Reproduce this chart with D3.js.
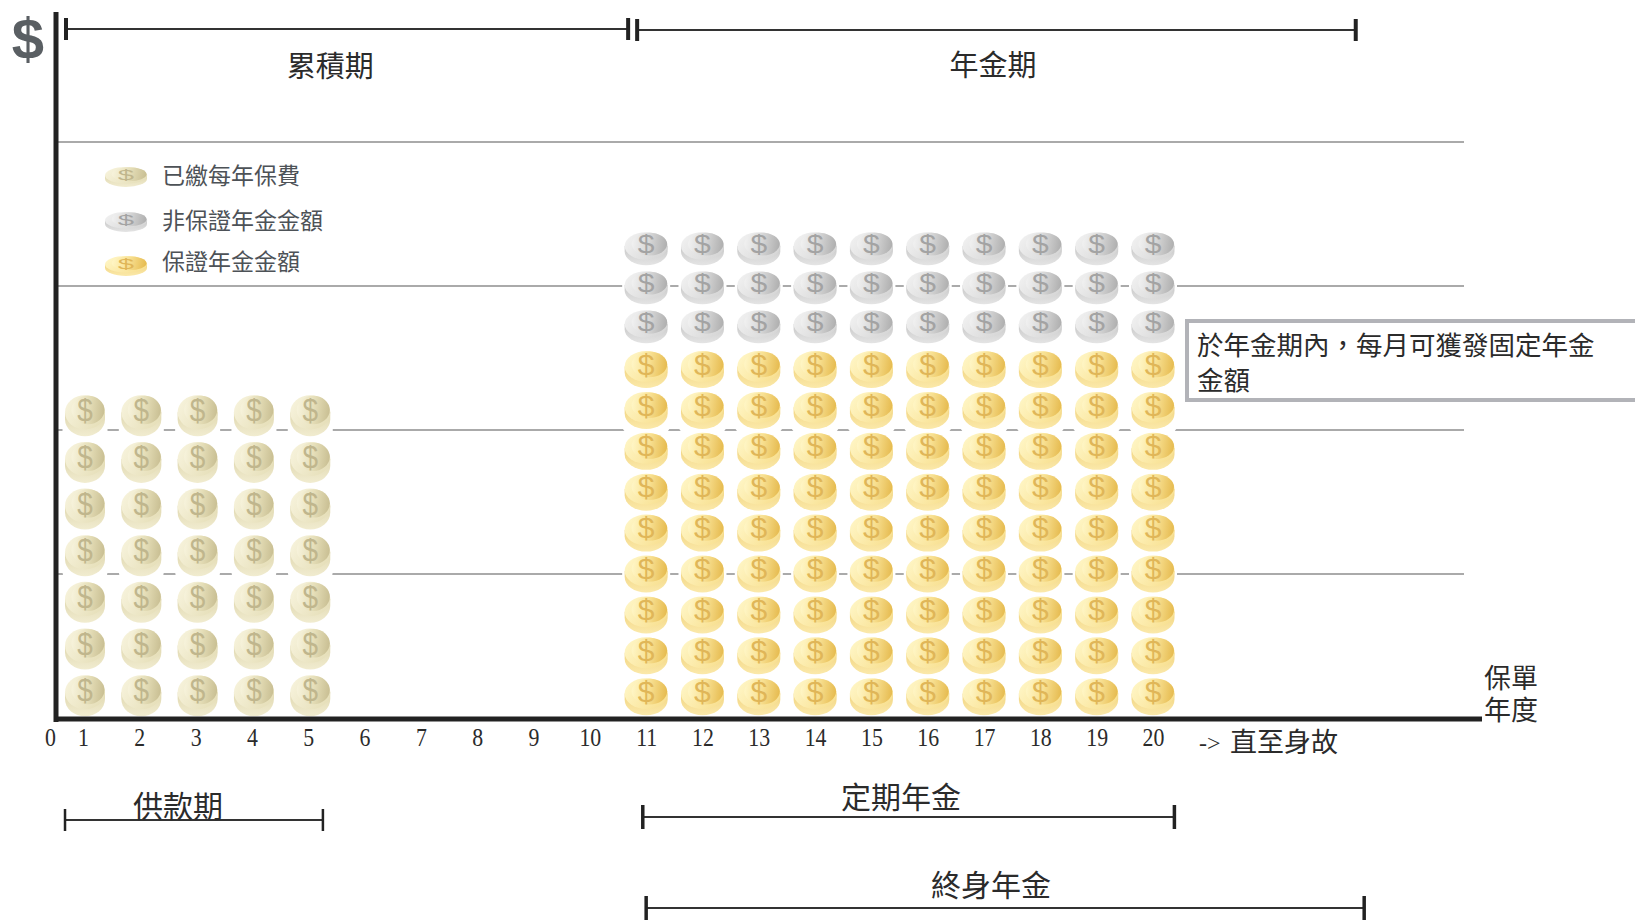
<!DOCTYPE html>
<html>
<head>
<meta charset="utf-8">
<title>累積期與年金期</title>
<script src="https://cdn.jsdelivr.net/npm/d3@7/dist/d3.min.js"></script>
<style>
html,body{margin:0;padding:0;background:#fff;overflow:hidden}
svg{display:block}
text{font-family:"Noto Sans CJK TC","Noto Sans CJK SC",sans-serif;fill:#2b2b2b}
</style>
</head>
<body>
<svg id="chart" width="1635" height="921"></svg>
<script>
// Policy years and coin counts per year
const tickYears = [0,1,2,3,4,5,6,7,8,9,10,11,12,13,14,15,16,17,18,19,20];
const premiumYears = [1,2,3,4,5];
const premiumCoins = [7,7,7,7,7];
const annuityYears = [11,12,13,14,15,16,17,18,19,20];
const guaranteedCoins = [9,9,9,9,9,9,9,9,9,9];
const nonGuaranteedCoins = [3,3,3,3,3,3,3,3,3,3];
const gridLevels = [1,2,3,4];

// Period spans, in policy years
const topSpans = [["累積期",0.485,10.68,5.39],["年金期",10.84,23.6,17.16]];
const bottomSpans = [["供款期",0.455,5.26],["定期年金",10.94,20.38],["終身年金",11.0,23.75]];
const legendItems = ["已繳每年保費","非保證年金金額","保證年金金額"];
const noteLines = ["於年金期內，每月可獲發固定年金","金額"];
const axisTitleLines = ["保單","年度"];

const svg = d3.select("#chart");
const x = d3.scaleLinear().domain([0,1,20]).range([50,83,1153]);
const y = d3.scaleLinear().domain([0,4]).range([718,142]);

// Coin palettes
const palettes = {
  premium:{light:"#f7f3dc",mid:"#e6dfb9",dark:"#c9bf93",edge:"#e0d8b0",edgeLow:"#f1ecd0",sign:"#c0b68d"},
  non:{light:"#f1f1f1",mid:"#d6d6d6",dark:"#afafaf",edge:"#c8c8c8",edgeLow:"#e4e4e4",sign:"#a3a3a3"},
  guaranteed:{light:"#fff6c6",mid:"#f8e091",dark:"#e6bb50",edge:"#f2d582",edgeLow:"#fbe9aa",sign:"#e0b658"}
};

const defs = svg.append("defs");
Object.entries(palettes).forEach(([key,p])=>{
  const face = defs.append("linearGradient").attr("id","face-"+key)
    .attr("x1",0).attr("y1",0.2).attr("x2",1).attr("y2",0.7);
  face.append("stop").attr("offset","0").attr("stop-color",p.light);
  face.append("stop").attr("offset","1").attr("stop-color",p.mid);
  const inner = defs.append("linearGradient").attr("id","inner-"+key)
    .attr("x1",0).attr("y1",0.4).attr("x2",1).attr("y2",0.5);
  inner.append("stop").attr("offset","0").attr("stop-color",p.light);
  inner.append("stop").attr("offset","0.5").attr("stop-color",p.mid);
  inner.append("stop").attr("offset","1").attr("stop-color",p.dark);
  const side = defs.append("linearGradient").attr("id","side-"+key)
    .attr("x1",0).attr("y1",0).attr("x2",0).attr("y2",1);
  side.append("stop").attr("offset","0").attr("stop-color",p.edge);
  side.append("stop").attr("offset","1").attr("stop-color",p.edgeLow);
});

// One coin on a 40-unit-wide, 36-unit-tall base shape, stretched to w by h
function drawCoin(parent, key, cx, cy, w, h){
  const g = parent.append("g")
    .attr("transform",`translate(${cx},${cy}) scale(${w/40},${h/36})`);
  g.append("path")
    .attr("d","M-20,-3 V3 A20,15 0 0 0 20,3 V-3 Z")
    .attr("fill",`url(#side-${key})`);
  g.append("ellipse").attr("cy",-3).attr("rx",20).attr("ry",15)
    .attr("fill",`url(#face-${key})`);
  g.append("ellipse").attr("cx",3).attr("cy",-5).attr("rx",16.5).attr("ry",12.5)
    .attr("fill",`url(#inner-${key})`);
  g.append("text").text("$")
    .attr("y",5).attr("text-anchor","middle")
    .style("font-family","'Liberation Sans',sans-serif")
    .style("font-size","28px")
    .style("fill",palettes[key].sign);
}

// Horizontal guide lines
svg.append("g").selectAll("line").data(gridLevels).join("line")
  .attr("x1",56).attr("x2",1464)
  .attr("y1",d=>y(d)).attr("y2",d=>y(d))
  .attr("stroke","#8e8e8e").attr("stroke-width",1.4);

// Coin stacks: base height and per-coin step are in guide-line units
const stacks = [
  {key:"premium",years:premiumYears,counts:premiumCoins,base:0.155,step:0.324,w:40,h:41,dx:2},
  {key:"guaranteed",years:annuityYears,counts:guaranteedCoins,base:0.148,step:0.284,w:43,h:37,dx:0},
  {key:"non",years:annuityYears,counts:nonGuaranteedCoins,base:2.717,step:0.271,w:43,h:33,dx:0}
];
const coins = stacks.flatMap(s=>s.years.flatMap((yr,i)=>
  d3.range(s.counts[i]).map(n=>({s,cx:x(yr)+s.dx,cy:y(s.base+n*s.step)}))));

// White backing that breaks the guide lines around every coin
const coinLayer = svg.append("g");
coinLayer.selectAll("rect.halo").data(coins).join("rect")
  .attr("class","halo")
  .attr("x",d=>d.cx-d.s.w/2-2.5).attr("y",d=>d.cy-d.s.h/2-2)
  .attr("width",d=>d.s.w+5).attr("height",d=>d.s.h+8)
  .attr("rx",10)
  .attr("fill","#fff");
coins.forEach(d=>drawCoin(coinLayer,d.s.key,d.cx,d.cy,d.s.w,d.s.h));

// Axes
svg.append("line").attr("x1",56).attr("x2",56).attr("y1",12).attr("y2",722)
  .attr("stroke","#222").attr("stroke-width",5);
svg.append("line").attr("x1",54).attr("x2",1482).attr("y1",719).attr("y2",719)
  .attr("stroke","#222").attr("stroke-width",5);

const xAxis = svg.append("g").attr("transform","translate(0,725)")
  .call(d3.axisBottom(x).tickValues(tickYears).tickFormat(d3.format("d")).tickSize(0).tickPadding(0));
xAxis.select(".domain").remove();
xAxis.selectAll("text")
  .attr("y",0).attr("dy","0.82em")
  .attr("transform","scale(0.84,1)")
  .style("font-family","'Liberation Serif',serif")
  .style("font-size","26px")
  .style("fill","#2b2b2b");

svg.append("text").text("$")
  .attr("x",28).attr("y",59).attr("text-anchor","middle")
  .style("font-family","'Liberation Sans',sans-serif")
  .style("font-weight",700).style("font-size","58px").style("fill","#5a5f63");

// Span brackets
function bracket(a,b,yy,tick,width){
  const g = svg.append("g").attr("stroke","#333");
  g.append("line").attr("x1",x(a)).attr("x2",x(b)).attr("y1",yy).attr("y2",yy).attr("stroke-width",2);
  [a,b].forEach(v=>g.append("line")
    .attr("x1",x(v)).attr("x2",x(v)).attr("y1",yy-tick).attr("y2",yy+tick)
    .attr("stroke","#222").attr("stroke-width",width));
}
topSpans.forEach((d,i)=>{
  bracket(d[1],d[2],29+i,11,4);
  svg.append("text").text(d[0])
    .attr("x",x(d[3])).attr("y",77-i).attr("text-anchor","middle").style("font-size","29px");
});
const bottomY = [820,817,908];
const bottomLabelY = [817,808,896];
bottomSpans.forEach((d,i)=>{
  bracket(d[1],d[2],bottomY[i],i===0?11:12,i===0?2.5:3.5);
  const cx = [178,901,991][i];
  const t = svg.append("text").text(d[0]).attr("text-anchor","middle").style("font-size","30px");
  t.attr("transform",`translate(${cx},${bottomLabelY[i]})`);
});

// Legend
const legendKeys = ["premium","non","guaranteed"];
const legendCoinY = [177,222,266];
const legendTextY = [184,229,270];
legendItems.forEach((label,i)=>{
  drawCoin(svg,legendKeys[i],126,legendCoinY[i],42,20);
  svg.append("text").text(label)
    .attr("x",162).attr("y",legendTextY[i])
    .style("font-size","23px").style("fill","#4d5257");
});

// Note box running off the right edge
svg.append("rect").attr("x",1187).attr("y",321).attr("width",470).attr("height",79)
  .attr("fill","#fff").attr("stroke","#b2b3b8").attr("stroke-width",4);
svg.append("text").attr("y",355).style("font-size","26.5px")
  .selectAll("tspan").data(noteLines).join("tspan")
  .attr("x",1197).attr("dy",(d,i)=>i?35:0).text(d=>d);

// Axis title and open-ended marker
svg.append("text").attr("y",688).style("font-size","27px")
  .selectAll("tspan").data(axisTitleLines).join("tspan")
  .attr("x",1484).attr("dy",(d,i)=>i?32:0).text(d=>d);
svg.append("text").text("->")
  .attr("x",1199).attr("y",751)
  .style("font-family","'Liberation Serif',serif").style("font-size","24px");
svg.append("text").text("直至身故")
  .attr("x",1230).attr("y",752).style("font-size","27px");
</script>
</body>
</html>
